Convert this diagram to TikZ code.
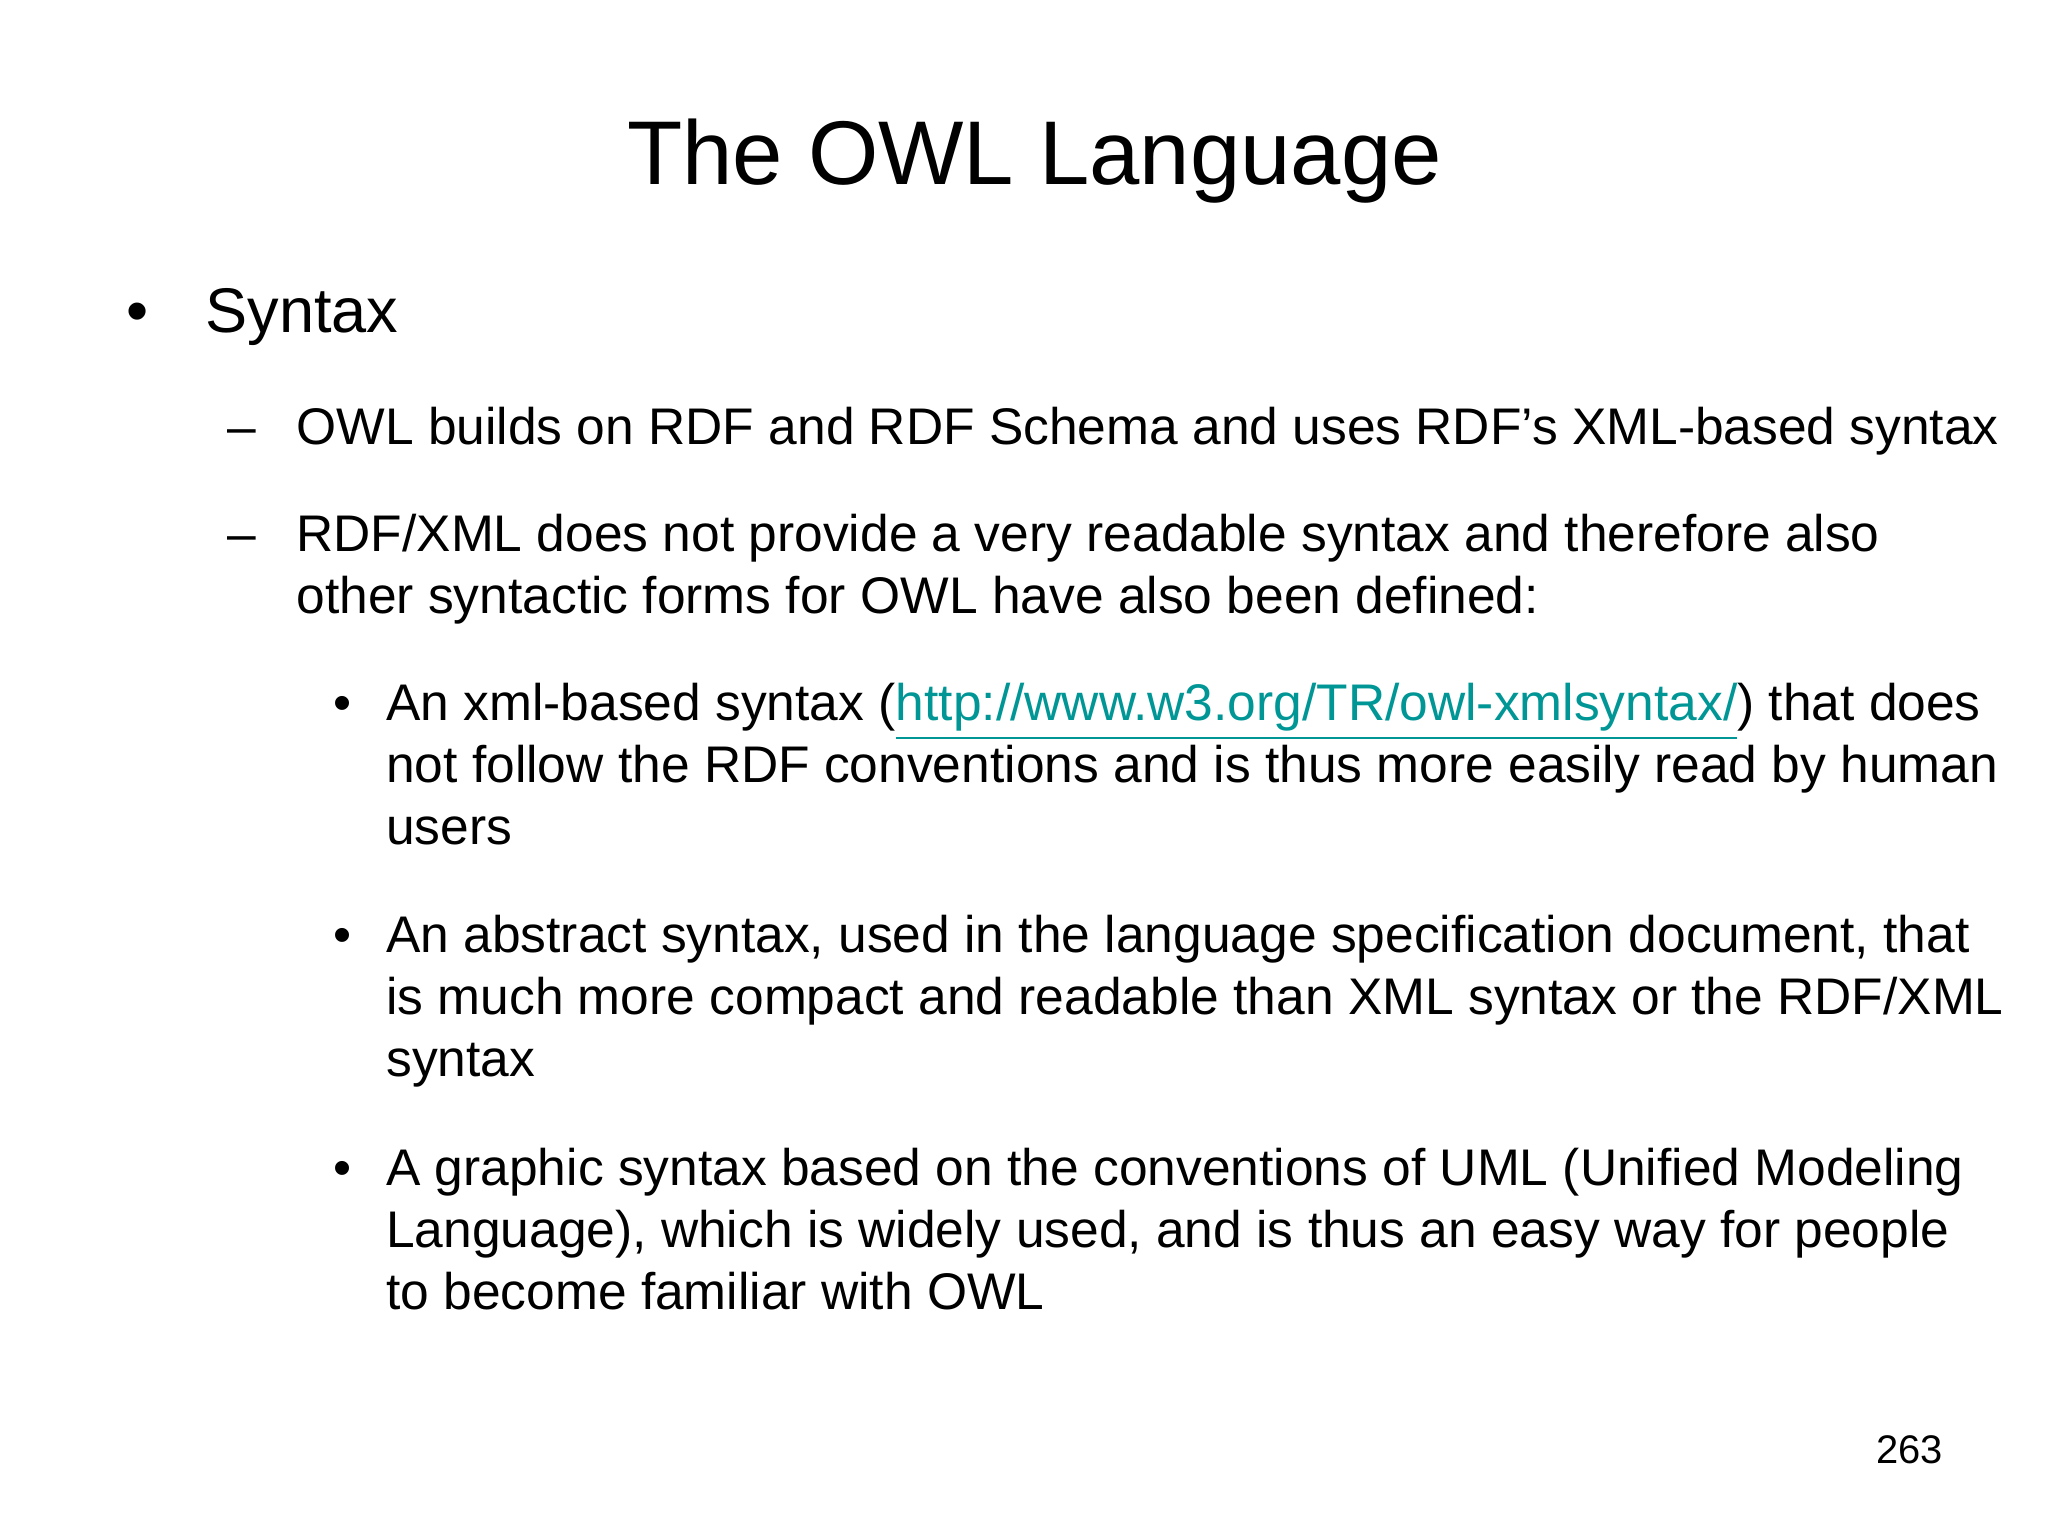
\documentclass[tikz,border=0pt]{standalone}
\usepackage{fontspec}
\setmainfont{Liberation Sans}
\definecolor{linkc}{RGB}{0,150,150}
\begin{document}
\begin{tikzpicture}[x=0.01cm,y=-0.01cm,
  body/.style={anchor=base west,inner sep=0pt,font=\fontsize{11.1pt}{13pt}\selectfont},
  ttl/.style={anchor=base,inner sep=0pt,font=\fontsize{19.5pt}{22pt}\selectfont},
  big/.style={anchor=base west,inner sep=0pt,font=\fontsize{13.6pt}{16pt}\selectfont}]
\useasboundingbox[fill=white] (0,0) rectangle (1552,1164);
\node[ttl] (title) at (784,140) {The OWL Language};
\node[big] (b0) at (95,252) {•};
\node[big] (syn) at (155,252) {Syntax};
\node[body] (d1) at (172,337) {–};
\node[body] (l1) at (224,337) {OWL builds on RDF and RDF Schema and uses RDF’s XML-based syntax};
\node[body] (d2) at (172,418) {–};
\node[body] (l2) at (224,418) {RDF/XML does not provide a very readable syntax and therefore also};
\node[body] (l3) at (224,465) {other syntactic forms for OWL have also been defined:};
\node[body] (s1) at (252,546) {•};
\node[body] (a1) at (292,546) {An xml-based syntax (\textcolor{linkc}{\underline{http://www.w3.org/TR/owl-xmlsyntax/}}) that does};
\node[body] (a2) at (292,593) {not follow the RDF conventions and is thus more easily read by human};
\node[body] (a3) at (292,640) {users};
\node[body] (s2) at (252,722) {•};
\node[body] (b1) at (292,722) {An abstract syntax, used in the language specification document, that};
\node[body] (b2) at (292,769) {is much more compact and readable than XML syntax or the RDF/XML};
\node[body] (b3) at (292,816) {syntax};
\node[body] (s3) at (252,898) {•};
\node[body] (c1) at (292,898) {A graphic syntax based on the conventions of UML (Unified Modeling};
\node[body] (c2) at (292,945) {Language), which is widely used, and is thus an easy way for people};
\node[body] (c3) at (292,992) {to become familiar with OWL};
\node[anchor=base east,inner sep=0pt,font=\fontsize{8.6pt}{10pt}\selectfont] (pg) at (1473,1109) {263};
\end{tikzpicture}
\end{document}
